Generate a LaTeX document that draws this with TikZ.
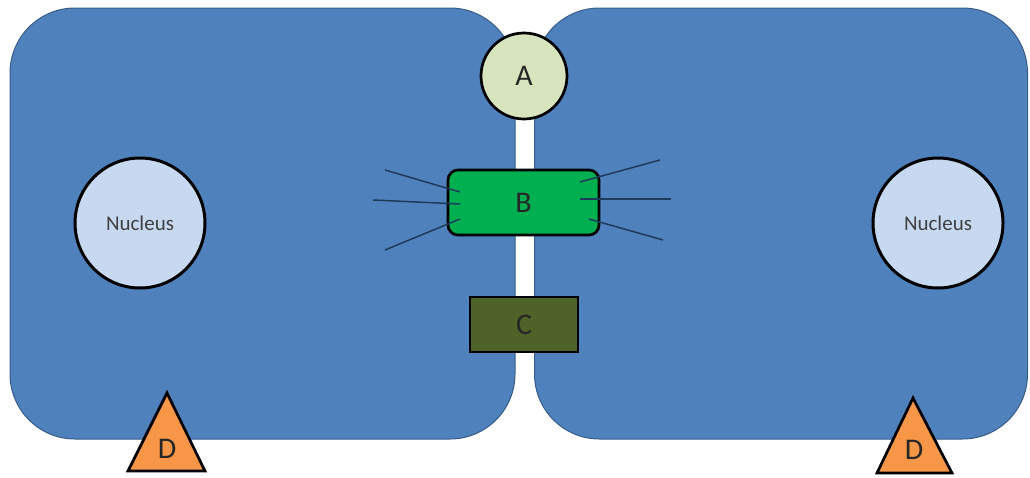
\documentclass[tikz,border=0pt]{standalone}
\usepackage{fontspec}
\setmainfont{Carlito}
\usepackage{tikz}

\definecolor{cellblue}{HTML}{4F81BD}
\definecolor{celledge}{HTML}{385D8A}
\definecolor{nucfill}{HTML}{C6D9F1}
\definecolor{afill}{HTML}{D7E4BD}
\definecolor{bfill}{HTML}{00B050}
\definecolor{cfill}{HTML}{4F6228}
\definecolor{dfill}{HTML}{F79646}
\definecolor{hair}{HTML}{1F3B5C}

\begin{document}
\begin{tikzpicture}[x=1pt, y=-1pt]
    \tikzstyle{cell}=[draw=celledge, line width=1pt, fill=cellblue, rounded corners=65pt, inner sep=0pt]
    \tikzstyle{nucleus}=[circle, draw=black, line width=3pt, fill=nucfill, minimum size=130pt, inner sep=0pt, font=\fontsize{21}{23}\selectfont, text=black!75]
    \tikzstyle{part}=[draw=black, line width=2.7pt, inner sep=0pt, font=\fontsize{30}{32}\selectfont, text=black!85]
    \tikzstyle{hairline}=[draw=hair, line width=1.5pt]

\useasboundingbox (0,0) rectangle (1030,477);

% the two cells
\node[cell, minimum width=505pt, minimum height=431pt] (left) at (262.5,223.5) {};
\node[cell, minimum width=493pt, minimum height=431pt] (right) at (781,223.5) {};

% nuclei
\node[nucleus] (nucL) at (140,223) {Nucleus};
\node[nucleus] (nucR) at (938,223) {Nucleus};

% junction parts
\node[part, circle, fill=afill, minimum size=86pt] (A) at (524,76) {A};
\node[part, rounded corners=10pt, fill=bfill, minimum width=151pt, minimum height=65pt] (B) at (523.5,202.5) {B};
\node[part, fill=cfill, minimum width=108pt, minimum height=55pt] (C) at (524,324.5) {C};

% hairs on B
\coordinate (l1) at (385,170);  \coordinate (l1i) at (460,192);
\coordinate (l2) at (373,200);  \coordinate (l2i) at (460,204);
\coordinate (l3) at (385,250);  \coordinate (l3i) at (460,219);
\coordinate (r1) at (660,160);  \coordinate (r1i) at (580,182);
\coordinate (r2) at (671,199);  \coordinate (r2i) at (580,199);
\coordinate (r3) at (663,240);  \coordinate (r3i) at (589,219);
\foreach \h in {l1,l2,l3,r1,r2,r3}{
\draw[hairline] (\h i) -- (\h);
};

% D markers
\draw[line width=2.7pt, fill=dfill, line join=miter] (167,393) -- (205,471) -- (128,471) -- cycle;
\draw[line width=2.7pt, fill=dfill, line join=miter] (913,398) -- (952,473) -- (877,473) -- cycle;
\node[font=\fontsize{30}{32}\selectfont, text=black!85] (DL) at (167,449) {D};
\node[font=\fontsize{30}{32}\selectfont, text=black!85] (DR) at (914,450) {D};
\end{tikzpicture}
\end{document}
